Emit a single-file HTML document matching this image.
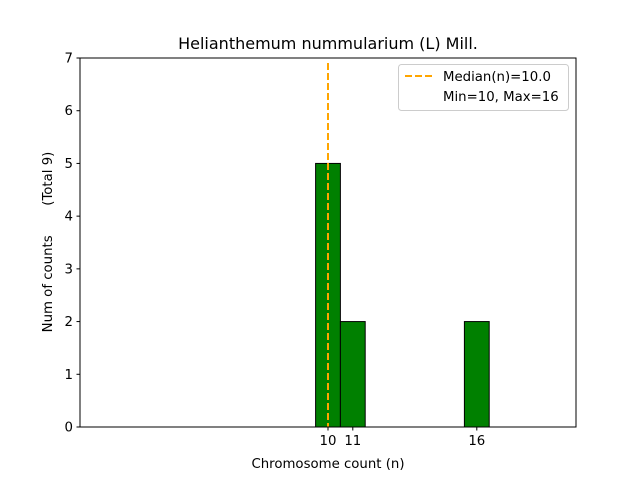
<!DOCTYPE html>
<html><head><meta charset="utf-8"><style>
body{margin:0;background:#fff;font-family:"DejaVu Sans",sans-serif}
</style></head><body>
<svg width="640" height="480" viewBox="0 0 640 480" id="c" font-family="DejaVu Sans, sans-serif"></svg>
<script>
const categories=[10,11,16];
const counts=[5,2,2];
const yTicks=[0,1,2,3,4,5,6,7];
const xTickLabels=[10,11,16];
const medianValue=10.0;
const L=80,R=576,T=58,B=427,xmin=0,xmax=20,ymin=0,ymax=7;
const xs=v=>L+(v-xmin)/(xmax-xmin)*(R-L);
const ys=v=>B-(v-ymin)/(ymax-ymin)*(B-T);
const svg=document.getElementById('c');
const NS='http://www.w3.org/2000/svg';
function mk(tag,attrs,txt){const e=document.createElementNS(NS,tag);for(const k in attrs)e.setAttribute(k,attrs[k]);if(txt!==undefined)e.textContent=txt;svg.appendChild(e);return e;}
categories.forEach((c,i)=>{
 const r=mk('rect',{x:xs(c-0.5),y:ys(counts[i]),width:xs(c+0.5)-xs(c-0.5),height:ys(0)-ys(counts[i]),fill:'#008000',stroke:'#000','stroke-width':1});
 
 
});
const ml=mk('line',{x1:xs(medianValue),x2:xs(medianValue),y1:63,y2:B,stroke:'#FFA500','stroke-width':2,'stroke-dasharray':'7,3'});


const fr=mk('rect',{x:L,y:T,width:R-L,height:B-T,fill:'none',stroke:'#000','stroke-width':1});


yTicks.forEach(t=>{
 mk('line',{x1:L-3.5,x2:L,y1:ys(t),y2:ys(t),stroke:'#000'});
 const tx=mk('text',{x:L-7,y:ys(t)+4.5,'text-anchor':'end','font-size':13.3},t);
 
 
});
xTickLabels.forEach(t=>{
 mk('line',{x1:xs(t),x2:xs(t),y1:B,y2:B+3.5,stroke:'#000'});
 const tx=mk('text',{x:xs(t),y:B+18,'text-anchor':'middle','font-size':13.3},t);
 
 
});
</script>
<svg width="640" height="480" style="position:absolute;left:0;top:0" font-family="DejaVu Sans, sans-serif">
<text x="328" y="49" text-anchor="middle" font-size="16">Helianthemum nummularium (L) Mill.</text>
<text x="328" y="468" text-anchor="middle" font-size="13.3">Chromosome count (n)</text>
<text transform="translate(52,242) rotate(-90)" text-anchor="middle" font-size="13.3">Num of counts&#160;&#160;&#160;&#160;&#160;&#160;&#160;(Total 9)</text>
<g>
<rect x="398.5" y="64.5" width="170" height="46" rx="3" fill="#fff" fill-opacity="0.8" stroke="#ccc"/>
<line x1="405" x2="433" y1="76" y2="76" stroke="#FFA500" stroke-width="2" stroke-dasharray="7,3"/>
<text x="443" y="81" font-size="13.3">Median(n)=10.0</text>
<text x="443" y="101" font-size="13.3">Min=10, Max=16</text>
</g>
</svg>
</body></html>
